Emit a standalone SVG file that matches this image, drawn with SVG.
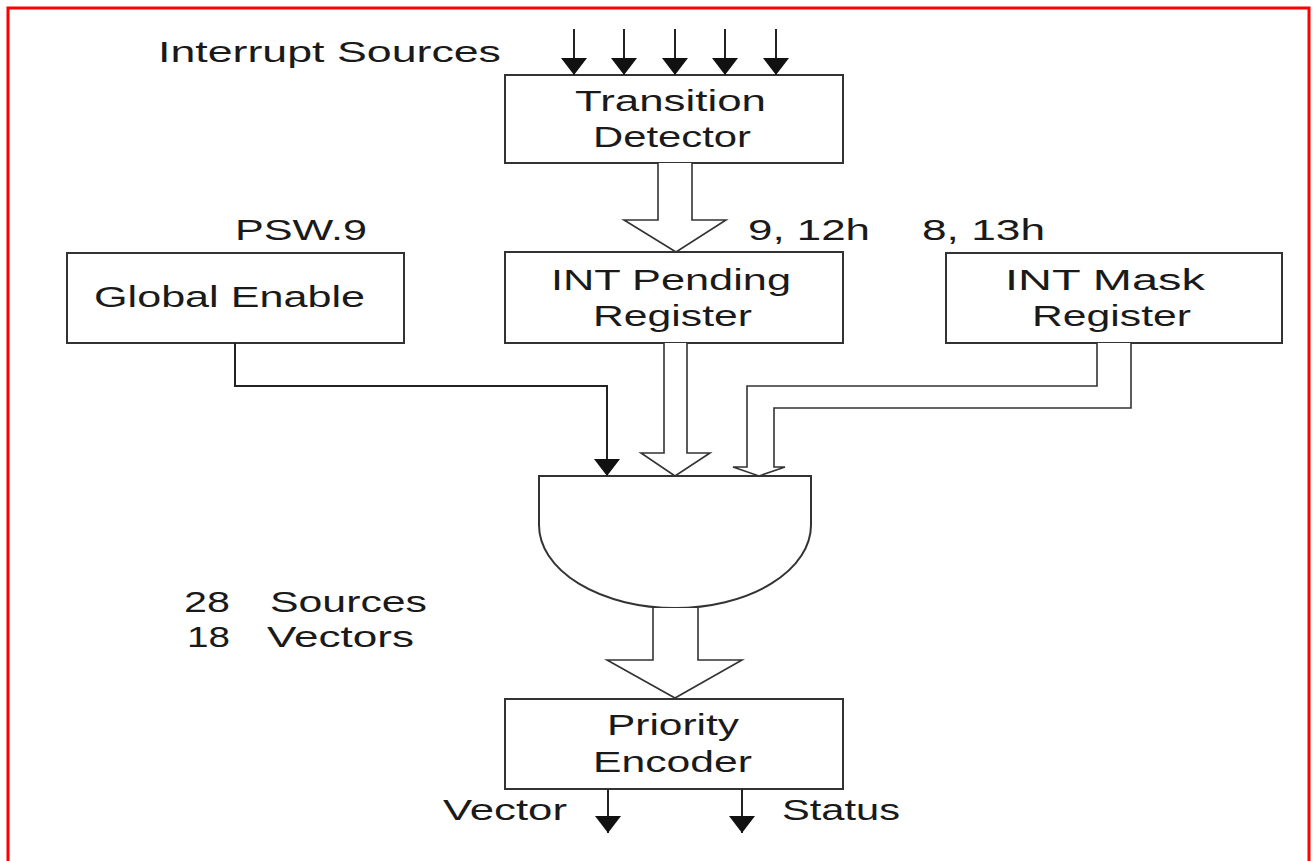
<svg xmlns="http://www.w3.org/2000/svg" width="1314" height="861" viewBox="0 0 1314 861">
<style>
.box{fill:#fff;stroke:#333;stroke-width:2}
.ln{fill:none;stroke:#333;stroke-width:2}
.hol{fill:#fff;stroke:#333;stroke-width:1.6}
.t{font-family:"Liberation Sans",Arial,sans-serif;font-size:30px;fill:#1a1a1a}
.arr{fill:none;stroke:#222;stroke-width:2;marker-end:url(#ah)}
</style>
<defs>
<marker id="ah" viewBox="0 0 17 26" refX="17" refY="13" markerWidth="17" markerHeight="26" markerUnits="userSpaceOnUse" orient="auto">
<path d="M0,0 L17,13 L0,26 z" fill="#111"/>
</marker>
</defs>
<rect x="0" y="0" width="1314" height="861" fill="#fff"/>
<rect x="8" y="8" width="1301" height="900" fill="none" stroke="#f00" stroke-width="3"/>

<g id="labels">
<text class="t" x="158" y="62" textLength="343" lengthAdjust="spacingAndGlyphs">Interrupt  Sources</text>
<text class="t" x="235" y="240" textLength="132" lengthAdjust="spacingAndGlyphs">PSW.9</text>
<text class="t" x="748" y="240" textLength="122" lengthAdjust="spacingAndGlyphs">9, 12h</text>
<text class="t" x="922" y="240" textLength="123" lengthAdjust="spacingAndGlyphs">8, 13h</text>
<text class="t" x="184" y="612" textLength="46" lengthAdjust="spacingAndGlyphs">28</text>
<text class="t" x="270" y="612" textLength="157" lengthAdjust="spacingAndGlyphs">Sources</text>
<text class="t" x="187" y="647" textLength="43" lengthAdjust="spacingAndGlyphs">18</text>
<text class="t" x="267" y="647" textLength="147" lengthAdjust="spacingAndGlyphs">Vectors</text>
<text class="t" x="443" y="820" textLength="124" lengthAdjust="spacingAndGlyphs">Vector</text>
<text class="t" x="782" y="820" textLength="118" lengthAdjust="spacingAndGlyphs">Status</text>
</g>

<g id="transition-detector">
<rect class="box" x="505" y="75" width="338" height="88"/>
<text class="t" x="575" y="111" textLength="191" lengthAdjust="spacingAndGlyphs">Transition</text>
<text class="t" x="593" y="147" textLength="158" lengthAdjust="spacingAndGlyphs">Detector</text>
</g>

<g id="global-enable">
<rect class="box" x="67" y="253" width="337" height="90"/>
<text class="t" x="94" y="307" textLength="271" lengthAdjust="spacingAndGlyphs">Global Enable</text>
</g>

<g id="int-pending">
<rect class="box" x="505" y="252" width="338" height="91"/>
<text class="t" x="551" y="290" textLength="240" lengthAdjust="spacingAndGlyphs">INT Pending</text>
<text class="t" x="593" y="326" textLength="159" lengthAdjust="spacingAndGlyphs">Register</text>
</g>

<g id="int-mask">
<rect class="box" x="946" y="253" width="336" height="90"/>
<text class="t" x="1005" y="290" textLength="200" lengthAdjust="spacingAndGlyphs">INT Mask</text>
<text class="t" x="1032" y="326" textLength="159" lengthAdjust="spacingAndGlyphs">Register</text>
</g>

<g id="and-gate">
<path class="box" d="M539,476 H811 V525 A136,83 0 0 1 539,525 Z"/>
</g>

<g id="priority-encoder">
<rect class="box" x="505" y="699" width="338" height="90"/>
<text class="t" x="607" y="735" textLength="132" lengthAdjust="spacingAndGlyphs">Priority</text>
<text class="t" x="593" y="772" textLength="159" lengthAdjust="spacingAndGlyphs">Encoder</text>
</g>

<g id="connectors">
<line class="arr" x1="574" y1="29" x2="574" y2="75"/>
<line class="arr" x1="624" y1="29" x2="624" y2="75"/>
<line class="arr" x1="675" y1="29" x2="675" y2="75"/>
<line class="arr" x1="725" y1="29" x2="725" y2="75"/>
<line class="arr" x1="776" y1="29" x2="776" y2="75"/>
<polyline class="hol" points="658,163 658,220 624,220 676,252 726,220 692,220 692,163"/>
<path class="arr" d="M235,343 V386 H607 V476"/>
<polyline class="hol" points="664,343 664,453 641,453 675,476 710,453 687,453 687,343"/>
<polyline class="hol" points="1097,343 1097,386 747,386 747,467 733,467 759,476 785,467 774,467 774,408 1131,408 1131,343"/>
<polyline class="hol" points="653,608 653,660 607,660 675,698 742,660 698,660 698,608"/>
<line class="arr" x1="608" y1="789" x2="608" y2="833"/>
<line class="arr" x1="742" y1="789" x2="742" y2="833"/>
</g>
</svg>
